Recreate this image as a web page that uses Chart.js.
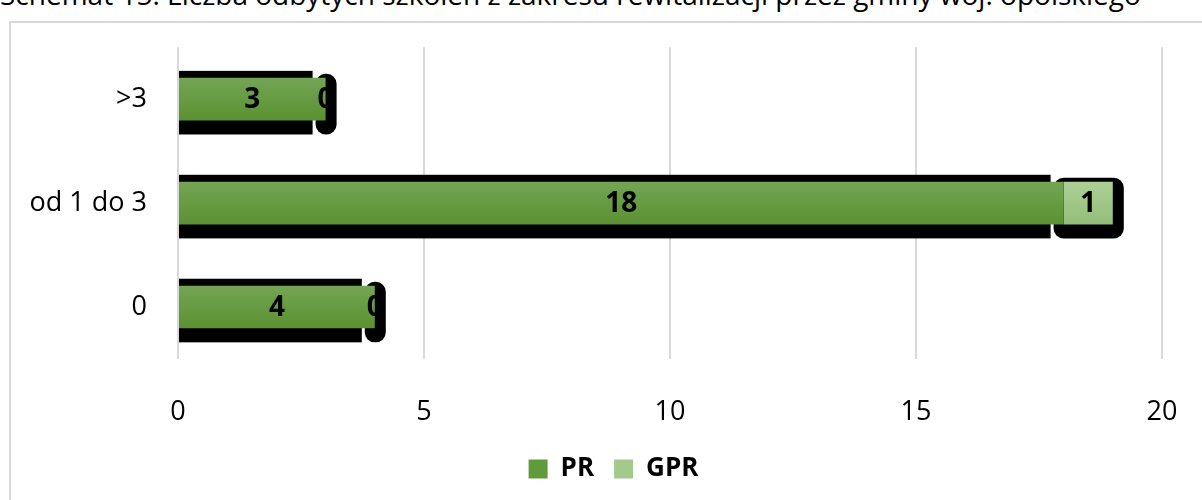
<!DOCTYPE html>
<html>
<head>
<meta charset="utf-8">
<script src="https://cdn.jsdelivr.net/npm/chart.js@4"></script>
<style>
  html, body { margin: 0; padding: 0; background: #fff; overflow: hidden; }
  #title {
    position: absolute; left: 0; top: -23px; white-space: nowrap;
    font-family: 'Open Sans', sans-serif; font-size: 28px; line-height: 34px; color: #000;
  }
  #frame {
    position: absolute; left: 9px; top: 21px; width: 1300px; height: 600px;
    border: 2px solid #d9d9d9; box-sizing: border-box;
  }
  #wrap { position: absolute; left: 0; top: 0; width: 1202px; height: 500px; }
</style>
</head>
<body>
<div id="title">Schemat 15. Liczba odbytych szkoleń z zakresu rewitalizacji przez gminy woj. opolskiego</div>
<div id="frame"></div>
<div id="wrap"><canvas id="myChart"></canvas></div>
<script>
let categories = ['>3', 'od 1 do 3', '0'];
let prValues = [3, 18, 4];
let gprValues = [0, 1, 0];
let xTicks = [0, 5, 10, 15, 20];

let fontFamily = "'Open Sans', sans-serif";

// vertical gradient for each bar, centred on its category
function barGradient(top, bottom) {
    return (c) => {
        let chart = c.chart;
        let ys = chart.scales.y;
        if (!ys || c.dataIndex === undefined || !chart.chartArea) return bottom;
        let cy = ys.getPixelForValue(c.dataIndex);
        let h = 22;
        let g = chart.ctx.createLinearGradient(0, cy - h, 0, cy + h);
        g.addColorStop(0, top);
        g.addColorStop(1, bottom);
        return g;
    };
}

function roundRect(ctx, x, y, w, h, r) {
    ctx.beginPath();
    ctx.moveTo(x + r, y);
    ctx.arcTo(x + w, y, x + w, y + h, r);
    ctx.arcTo(x + w, y + h, x, y + h, r);
    ctx.arcTo(x, y + h, x, y, r);
    ctx.arcTo(x, y, x + w, y, r);
    ctx.closePath();
    ctx.fill();
}

// black shadow shapes behind the bars
let shadows = {
    id: 'shadows',
    beforeDatasetsDraw(chart) {
        let ctx = chart.ctx;
        ctx.save();
        ctx.fillStyle = '#000';
        chart.getDatasetMeta(0).data.forEach((bar) => {
            let h = bar.height;
            ctx.fillRect(bar.base, bar.y - h / 2 - 7, bar.x - bar.base - 13, h + 21);
        });
        chart.getDatasetMeta(1).data.forEach((bar) => {
            let h = bar.height;
            let x0 = bar.base - 10, x1 = bar.x + 11;
            roundRect(ctx, x0, bar.y - h / 2 - 4, x1 - x0, h + 18, 10);
        });
        ctx.restore();
    }
};

// value labels in the middle of each bar
let valueLabels = {
    id: 'valueLabels',
    afterDatasetsDraw(chart) {
        let ctx = chart.ctx;
        ctx.save();
        ctx.font = 'bold 28px ' + fontFamily;
        ctx.fillStyle = '#000';
        ctx.textAlign = 'center';
        ctx.textBaseline = 'middle';
        chart.data.datasets.forEach((ds, i) => {
            chart.getDatasetMeta(i).data.forEach((bar, j) => {
                let cx = (bar.x + bar.base) / 2;
                ctx.fillText(String(ds.data[j]), cx, bar.y + 1);
            });
        });
        ctx.restore();
    }
};

let ctx = document.getElementById('myChart').getContext('2d');

let myChart = new Chart(ctx, {
    type: 'bar',
    data: {
        labels: categories,
        datasets: [{
            label: 'PR',
            data: prValues,
            backgroundColor: barGradient('#74a555', '#5a9131')
        }, {
            label: 'GPR',
            data: gprValues,
            backgroundColor: barGradient('#add197', '#93bc79')
        }]
    },
    options: {
        indexAxis: 'y',
        responsive: true,
        maintainAspectRatio: false,
        animation: false,
        datasets: {
            bar: { categoryPercentage: 1, barPercentage: 0.41 }
        },
        layout: {
            padding: { left: 25, right: 0, top: 40, bottom: 8 }
        },
        scales: {
            x: {
                stacked: true,
                min: 0,
                max: 20,
                afterBuildTicks: (scale) => {
                    scale.ticks = xTicks.map((v) => ({ value: v }));
                },
                grid: { color: '#d9d9d9', lineWidth: 2, drawTicks: false },
                border: { display: false },
                ticks: {
                    color: '#000',
                    padding: 37,
                    font: { family: fontFamily, size: 27 }
                },
                afterFit: (scale) => {
                    scale.height = 77;
                    scale.paddingLeft = 0;
                    scale.paddingRight = 40;
                }
            },
            y: {
                stacked: true,
                grid: { display: false, drawTicks: false },
                border: { display: false },
                ticks: {
                    color: '#000',
                    padding: 31,
                    font: { family: fontFamily, size: 27 }
                },
                afterFit: (scale) => { scale.width = 153; }
            }
        },
        plugins: {
            legend: {
                position: 'bottom',
                labels: {
                    color: '#000',
                    boxWidth: 19,
                    boxHeight: 19,
                    padding: 20,
                    font: { family: fontFamily, size: 26, weight: 'bold' },
                    generateLabels: () => [
                        { text: 'PR', fillStyle: '#5f9a3b', strokeStyle: '#5f9a3b', lineWidth: 0, datasetIndex: 0 },
                        { text: 'GPR', fillStyle: '#a3c98c', strokeStyle: '#a3c98c', lineWidth: 0, datasetIndex: 1 }
                    ]
                }
            },
            tooltip: { enabled: false }
        }
    },
    plugins: [shadows, valueLabels]
});
</script>
</body>
</html>
